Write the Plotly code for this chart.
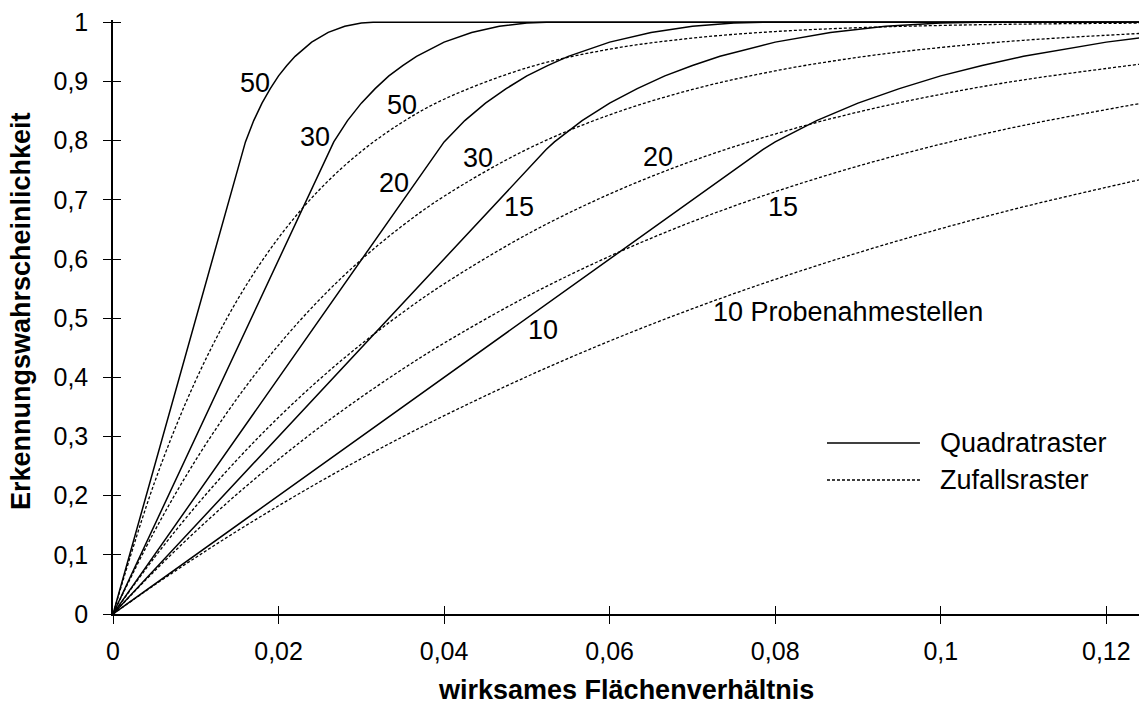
import plotly.graph_objects as go

# ---- data ----
# Zufallsraster (dashed)
rand_x = [0, .005, .01, .015, .02, .025, .03, .035, .04, .05, .06, .07, .08, .09, .10, .11, .124]
rand_10 = [0, .0489, .0956, .1403, .1829, .2237, .2626, .2997, .3352, .4013, .4614, .5160, .5656, .6106, .6513, .6882, .7339]
rand_15 = [0, .0724, .1399, .2028, .2614, .3160, .3667, .4140, .4579, .5367, .6047, .6633, .7137, .7570, .7941, .8259, .8627]
rand_20 = [0, .0954, .1821, .2609, .3324, .3973, .4562, .5096, .5580, .6415, .7099, .7658, .8113, .8484, .8784, .9028, .9292]
rand_30 = [0, .1396, .2603, .3645, .4545, .5321, .5990, .6566, .7061, .7854, .8437, .8866, .9180, .9409, .9576, .9697, .9812]
rand_50 = [0, .2217, .3950, .5303, .6358, .7180, .7819, .8316, .8701, .9231, .9547, .9734, .9845, .9910, .9948, .9971, .9987]

# Quadratraster (solid)
sq_y = [0, .785, .798, .834, .8635, .888, .9096, .927, .9426, .9666, .983, .9935, .999, 1.0, 1.0]
sq50_x = [0, .0157, .016, .017, .018, .019, .020, .021, .022, .024, .026, .028, .030, .03142, .124]
sq30_x = [0, .02617, .02667, .02833, .03, .03167, .03333, .035, .03667, .04, .04333, .04667, .05, .05236, .124]
sq20_x = [0, .03925, .04, .0425, .045, .0475, .05, .0525, .055, .06, .065, .07, .075, .07854, .124]
sq15_x = [0, .05233, .05333, .05667, .06, .06333, .06667, .07, .07333, .08, .08667, .09333, .1, .10472, .124]
sq10_x = [0, .0785, .08, .085, .09, .095, .1, .105, .11, .12, .124]
sq10_y = [0, .785, .798, .834, .8635, .888, .9096, .927, .9426, .9666, .9737]

# curve labels
label_text = ["50", "30", "50", "20", "30", "15", "20", "15", "10", "10 Probenahmestellen"]
label_x = [0.0172, 0.0244, 0.0349, 0.0339, 0.0441, 0.0490, 0.0659, 0.0810, 0.0519, 0.0888]
label_y = [0.898, 0.807, 0.861, 0.729, 0.771, 0.688, 0.773, 0.688, 0.480, 0.511]

legend_names = ["Quadratraster", "Zufallsraster"]

FONT = "Liberation Sans, Arial, sans-serif"
fig = go.Figure()

solid = dict(color="black", width=1.5)
dashed = dict(color="black", width=1.3, dash="3px,2px")

for xs, ys in [(sq50_x, sq_y), (sq30_x, sq_y), (sq20_x, sq_y), (sq15_x, sq_y), (sq10_x, sq10_y)]:
    fig.add_trace(go.Scatter(x=xs, y=ys, mode="lines", line=solid, showlegend=False, hoverinfo="skip"))

for ys in [rand_50, rand_30, rand_20, rand_15, rand_10]:
    fig.add_trace(go.Scatter(x=rand_x, y=ys, mode="lines", line=dict(shape="spline", smoothing=1, **dashed),
                             showlegend=False, hoverinfo="skip"))

# invisible trace on overlay axes (for inner tick halves)
fig.add_trace(go.Scatter(x=[0], y=[0], xaxis="x2", yaxis="y2", mode="markers",
                         marker=dict(opacity=0), showlegend=False, hoverinfo="skip"))

XR = [0, 0.12395]
YR = [0, 1.004]
YT = [0, .1, .2, .3, .4, .5, .6, .7, .8, .9, 1]
ax_common = dict(showgrid=False, zeroline=False, ticklen=8, tickwidth=1.2, tickcolor="black")

fig.update_layout(
    width=1139, height=707,
    margin=dict(l=113, r=0, t=20, b=93),
    plot_bgcolor="white", paper_bgcolor="white",
    separators=",.",
    font=dict(family=FONT, size=25, color="black"),
    xaxis=dict(range=XR, dtick=0.02, tick0=0, ticks="outside", showline=True, linecolor="black",
               linewidth=1.5, tickfont=dict(size=25), ticklabelstandoff=6, **ax_common),
    yaxis=dict(range=YR, tickvals=YT, ticks="outside",
               showline=True, linecolor="black", linewidth=1.5, tickfont=dict(size=25),
               ticklabelstandoff=10, **ax_common),
    xaxis2=dict(range=XR, dtick=0.02, tick0=0, ticks="inside", overlaying="x", anchor="y2",
                showticklabels=False, showline=False, **ax_common),
    yaxis2=dict(range=YR, tickvals=YT, ticks="inside",
                overlaying="y", anchor="x2", showticklabels=False, showline=False, **ax_common),
)

for t, x, y in zip(label_text, label_x, label_y):
    fig.add_annotation(x=x, y=y, text=t, showarrow=False, font=dict(size=27, family=FONT),
                       xanchor="center", yanchor="middle")

# axis titles
fig.add_annotation(x=0.5, y=-0.1566, xref="paper", yref="paper", text="<b>wirksames Flächenverhältnis</b>",
                   showarrow=False, font=dict(size=27, family=FONT), xanchor="center", yanchor="bottom")
fig.add_annotation(x=-0.0897, y=0.51, xref="paper", yref="paper", text="<b>Erkennungswahrscheinlichkeit</b>",
                   showarrow=False, textangle=-90, font=dict(size=27, family=FONT),
                   xanchor="center", yanchor="middle")

# manual legend
leg_y = [0.2879, 0.2256]
leg_dash = ["solid", "3px,2px"]
for name, yy, dsh in zip(legend_names, leg_y, leg_dash):
    fig.add_shape(type="line", xref="paper", yref="paper", x0=0.6959, x1=0.7865, y0=yy, y1=yy,
                  line=dict(color="black", width=1.5 if dsh == "solid" else 1.3, dash=dsh))
    fig.add_annotation(x=0.8041, y=yy, xref="paper", yref="paper", text=name, showarrow=False,
                       font=dict(size=27, family=FONT), xanchor="left", yanchor="middle")

fig.write_html("out.html", config={"displayModeBar": False},
               post_script="document.body.style.margin='0';document.body.style.overflow='hidden';")
